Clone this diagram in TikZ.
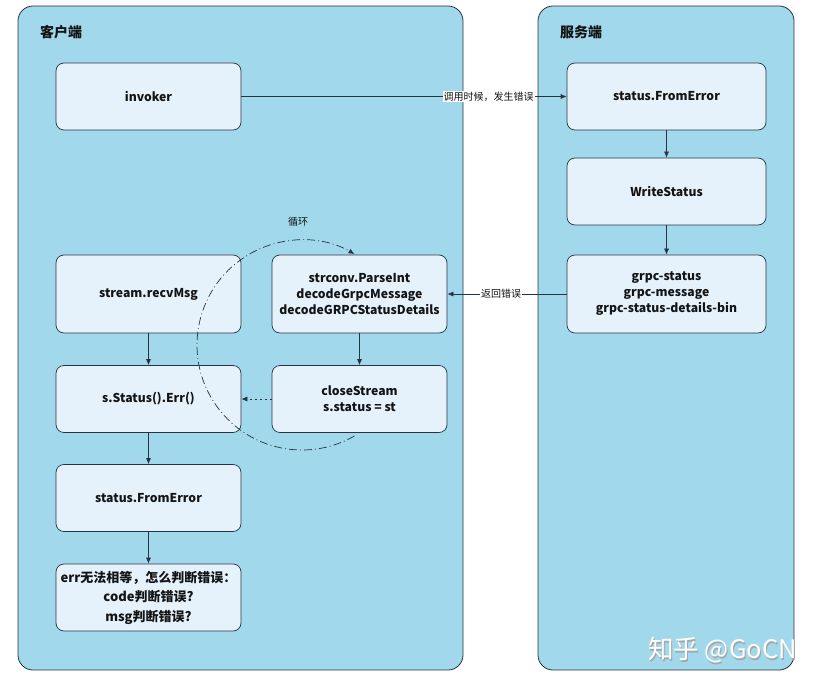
\documentclass[tikz,border=0pt]{standalone}
\usepackage{fontspec}
\setmainfont{Noto Sans CJK SC}
\usetikzlibrary{arrows.meta,calc}
\definecolor{linec}{RGB}{38,52,66}
\definecolor{contfill}{RGB}{161,216,236}
\definecolor{boxfill}{RGB}{230,242,251}
\definecolor{txt}{RGB}{20,20,20}
\begin{document}
\begin{tikzpicture}[x=1pt,y=-1pt,
  cont/.style={draw=linec, fill=contfill, rounded corners=15pt, line width=0.8pt},
  box/.style={draw=linec, fill=boxfill, rounded corners=8pt, line width=0.7pt,
    font=\bfseries\fontsize{12.2}{16}\selectfont, text=txt, align=center, inner sep=0pt},
  wbox/.style={box, minimum width=185pt, minimum height=67pt},
  mbox/.style={box, minimum width=175pt},
  sbox/.style={box, minimum width=199pt, minimum height=67pt},
  title/.style={font=\bfseries\fontsize{14}{16}\selectfont, text=txt, anchor=west, inner sep=0pt},
  arr/.style={-{Latex[length=6pt,width=5pt]}, draw=linec, line width=0.7pt},
  lbl/.style={font=\fontsize{10}{12}\selectfont, text=txt, fill=white, inner sep=1pt}]
\useasboundingbox (0,0) rectangle (816,684);
\fill[white] (0,0) rectangle (816,684);
\draw[cont] (18,6) rectangle (463,670);
\draw[cont] (538,6) rectangle (794,670);
\node[title] (tc) at (40,32) {客户端};
\node[title] (ts) at (560,32) {服务端};

% client
\node[wbox] (inv) at (148.5,96.5) {invoker};
\node[box, minimum width=185pt, minimum height=78pt] (recv) at (148.5,294) {stream.recvMsg};
\node[wbox] (serr) at (148.5,399) {s.Status().Err()};
\node[wbox] (cfe) at (148.5,498) {status.FromError};
\node[wbox, font=\bfseries\fontsize{13}{19.5}\selectfont] (err) at (148.5,597.5) {err无法相等，怎么判断错误：\\code判断错误?\\msg判断错误?};
\node[mbox, minimum height=78pt] (conv) at (359.5,294) {strconv.ParseInt\\decodeGrpcMessage\\decodeGRPCStatusDetails};
\node[mbox, minimum height=67pt] (close) at (359.5,399) {closeStream\\s.status = st};

% server
\node[sbox] (sfe) at (666.5,96.5) {status.FromError};
\node[sbox] (ws) at (666.5,191.5) {WriteStatus};
\node[box, minimum width=199pt, minimum height=78pt] (gs) at (666.5,294) {grpc-status\\grpc-message\\grpc-status-details-bin};

% connectors
\draw[arr] (inv) -- node[lbl, pos=0.76] {调用时候，发生错误} (sfe);
\draw[arr] (sfe) -- (ws);
\draw[arr] (ws) -- (gs);
\draw[arr] (gs) -- node[lbl, pos=0.55] {返回错误} (conv);
\draw[arr] (conv) -- (close);
\draw[arr, dash pattern=on 1.5pt off 3.5pt] (close) -- (serr);
\draw[arr] (recv) -- (serr);
\draw[arr] (serr) -- (cfe);
\draw[arr] (cfe) -- (err);

% loop
\coordinate (lc) at (302,345);
\draw[arr, dash pattern=on 8pt off 3pt on 1pt off 3pt] ($(lc)+(60:105)$) arc[start angle=60, end angle=300, radius=105];
\node[font=\fontsize{10}{12}\selectfont, text=txt] (loop) at (298,222) {循环};

% watermark
\node[font=\fontsize{25.5}{28}\selectfont, text=gray!70, anchor=east, inner sep=0pt] at (798,651.5) {知乎 @GoCN};
\node[font=\fontsize{25.5}{28}\selectfont, text=white, anchor=east, inner sep=0pt] (wm) at (797,650) {知乎 @GoCN};
\end{tikzpicture}
\end{document}
